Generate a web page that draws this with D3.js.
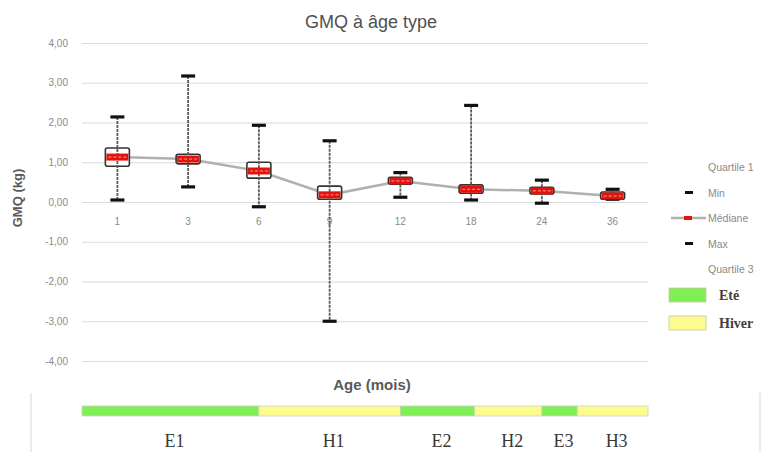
<!DOCTYPE html>
<html><head><meta charset="utf-8">
<script src="https://cdn.jsdelivr.net/npm/d3@7"></script>
<style>
html,body{margin:0;padding:0;background:#fff;}
svg{display:block;font-family:"Liberation Sans",Arial,sans-serif;}
</style></head>
<body>
<svg id="chart" width="766" height="452"></svg>
<script>
// ---- Data ----
const ages = ["1","3","6","9","12","18","24","36"];
const minValues = [0.05, 0.38, -0.12, -3.00, 0.12, 0.05, -0.03, 0.07];
const q1Values = [0.90, 0.96, 0.60, 0.07, 0.45, 0.22, 0.20, 0.07];
const medianValues = [1.13, 1.08, 0.78, 0.18, 0.53, 0.32, 0.28, 0.15];
const q3Values = [1.36, 1.20, 1.00, 0.40, 0.62, 0.43, 0.37, 0.25];
const maxValues = [2.14, 3.17, 1.93, 1.54, 0.74, 2.43, 0.55, 0.32];
const yTicks = [4, 3, 2, 1, 0, -1, -2, -3, -4];
const seasonLabels = ["E1","H1","E2","H2","E3","H3"];
const seasonTypes = ["Eté","Hiver","Eté","Hiver","Eté","Hiver"];
const seasonSpans = [2.5, 2, 1.05, 0.95, 0.5, 1.0]; // in age-category units
const legendItems = ["Quartile 1","Min","Médiane","Max","Quartile 3"];
const seasonLegend = ["Eté","Hiver"];

// ---- Setup ----
const svg = d3.select("#chart");
const mLeft = 82, mRight = 648, mTop = 43, mBottom = 361;
const x = d3.scaleBand().domain(ages).range([mLeft, mRight]).padding(0);
const y = d3.scaleLinear().domain([-4, 4]).range([mBottom, mTop]);
const seasonColor = d3.scaleOrdinal().domain(["Eté","Hiver"]).range(["#80ee55","#fdfb8e"]);
const fmt = v => d3.format(".2f")(v).replace(".", ",").replace("−", "-");

// Title
svg.append("text").attr("x", 371).attr("y", 28).attr("text-anchor", "middle")
  .attr("font-size", 18).attr("fill", "#505050").text("GMQ à âge type");

// Y axis with gridlines
const yAxis = svg.append("g").attr("transform", `translate(${mLeft},0)`)
  .call(d3.axisLeft(y).tickValues(yTicks).tickFormat(fmt).tickSize(-(mRight - mLeft)).tickPadding(14));
yAxis.select(".domain").remove();
yAxis.selectAll(".tick line").attr("stroke", "#dadada").attr("stroke-width", 1.2);
yAxis.selectAll(".tick text").attr("fill", "#8a8a8a").attr("font-size", 10);

// Y title
svg.append("text").attr("transform", "translate(22,198) rotate(-90)")
  .attr("text-anchor", "middle").attr("font-size", 13).attr("font-weight", "bold")
  .attr("fill", "#595959").text("GMQ (kg)");

// X axis labels (at zero line)
const xAxis = svg.append("g").attr("transform", `translate(0,${y(0)})`)
  .call(d3.axisBottom(x).tickSize(0).tickPadding(16));
xAxis.select(".domain").remove();
xAxis.selectAll(".tick text").attr("fill", "#8a8a8a").attr("font-size", 10);

// Data rows
const rows = ages.map((a, i) => ({age: a, min: minValues[i], q1: q1Values[i], med: medianValues[i], q3: q3Values[i], max: maxValues[i]}));
const cx = d => x(d.age) + x.bandwidth() / 2;
const boxW = 24, capW = 14;

// Median connecting line
svg.append("path").datum(rows)
  .attr("d", d3.line().x(cx).y(d => y(d.med)))
  .attr("fill", "none").attr("stroke", "#b0b0b0").attr("stroke-width", 2.5);

const g = svg.append("g").selectAll("g").data(rows).join("g");

// Boxes
g.append("rect")
  .attr("x", d => cx(d) - boxW / 2).attr("width", boxW)
  .attr("y", d => y(d.q3)).attr("height", d => Math.max(1, y(d.q1) - y(d.q3)))
  .attr("rx", 2).attr("fill", "#fff").attr("stroke", "#333").attr("stroke-width", 1.6);

// Whiskers
g.append("line")
  .attr("x1", cx).attr("x2", cx).attr("y1", d => y(d.max)).attr("y2", d => y(d.min))
  .attr("stroke", "#5a5a5a").attr("stroke-width", 1.8).attr("stroke-dasharray", "3,1");

// Caps
g.selectAll(".cap").data(d => [{c: cx(d), v: d.max}, {c: cx(d), v: d.min}]).join("line")
  .attr("class", "cap")
  .attr("x1", d => d.c - capW / 2).attr("x2", d => d.c + capW / 2)
  .attr("y1", d => y(d.v)).attr("y2", d => y(d.v))
  .attr("stroke", "#111").attr("stroke-width", 3.2);

// Median markers
g.append("rect")
  .attr("x", d => cx(d) - boxW / 2 + 1).attr("width", boxW - 2)
  .attr("y", d => y(d.med) - 3.5).attr("height", 7)
  .attr("fill", "#e3120b");
g.append("line")
  .attr("x1", d => cx(d) - boxW / 2 + 3).attr("x2", d => cx(d) + boxW / 2 - 3)
  .attr("y1", d => y(d.med)).attr("y2", d => y(d.med))
  .attr("stroke", "#f99").attr("stroke-width", 1).attr("stroke-dasharray", "3,2");

// X title
svg.append("text").attr("x", 372).attr("y", 390).attr("text-anchor", "middle")
  .attr("font-size", 15).attr("font-weight", "bold").attr("fill", "#595959").text("Age (mois)");

// Frame lines for season table
svg.append("line").attr("x1", 31).attr("x2", 31).attr("y1", 393).attr("y2", 452).attr("stroke", "#e4e4e4").attr("stroke-width", 1.5);
svg.append("line").attr("x1", 760).attr("x2", 760).attr("y1", 393).attr("y2", 452).attr("stroke", "#e4e4e4").attr("stroke-width", 1.5);

// Season bar
const s = d3.scaleLinear().domain([0, ages.length]).range([mLeft, mRight]);
const cum = d3.cumsum(seasonSpans);
const seasons = seasonLabels.map((l, i) => ({label: l, type: seasonTypes[i], start: i ? cum[i - 1] : 0, end: cum[i]}));
const sg = svg.append("g").selectAll("g").data(seasons).join("g");
sg.append("rect").attr("x", d => s(d.start)).attr("width", d => s(d.end) - s(d.start))
  .attr("y", 406).attr("height", 10).attr("fill", d => seasonColor(d.type))
  .attr("stroke", "#c8d8b8").attr("stroke-width", 0.8);
sg.append("text").attr("x", d => (s(d.start) + s(d.end)) / 2 + 4).attr("y", 447)
  .attr("text-anchor", "middle").attr("font-family", "'Liberation Serif','Times New Roman',serif")
  .attr("font-size", 18).attr("fill", "#383838").text(d => d.label);

// Legend
const lx = 708;
const ly = d3.scalePoint().domain(legendItems).range([167, 269]);
const lg = svg.append("g");
lg.selectAll("text.li").data(legendItems).join("text").attr("class", "li")
  .attr("x", lx).attr("y", d => ly(d) + 4).attr("font-size", 10.5).attr("fill", "#8a8a8a").text(d => d);
lg.append("line").attr("x1", 685).attr("x2", 693).attr("y1", ly("Min")).attr("y2", ly("Min")).attr("stroke", "#111").attr("stroke-width", 3);
lg.append("line").attr("x1", 685).attr("x2", 693).attr("y1", ly("Max")).attr("y2", ly("Max")).attr("stroke", "#111").attr("stroke-width", 3);
lg.append("line").attr("x1", 671).attr("x2", 706).attr("y1", ly("Médiane")).attr("y2", ly("Médiane")).attr("stroke", "#b0b0b0").attr("stroke-width", 2.5);
lg.append("rect").attr("x", 684).attr("width", 8).attr("y", ly("Médiane") - 2).attr("height", 4).attr("fill", "#e3120b");

const sly = d3.scalePoint().domain(seasonLegend).range([295, 323]);
lg.selectAll("rect.sl").data(seasonLegend).join("rect").attr("class", "sl")
  .attr("x", 669).attr("width", 37).attr("y", d => sly(d) - 7).attr("height", 14)
  .attr("fill", d => seasonColor(d)).attr("stroke", "#c8c8a0").attr("stroke-width", 0.8);
lg.selectAll("text.sl").data(seasonLegend).join("text").attr("class", "sl")
  .attr("x", 719).attr("y", d => sly(d) + 5).attr("font-family", "'Liberation Serif','Times New Roman',serif")
  .attr("font-size", 14).attr("font-weight", "bold").attr("fill", "#404040").text(d => d);
</script>
</body></html>
